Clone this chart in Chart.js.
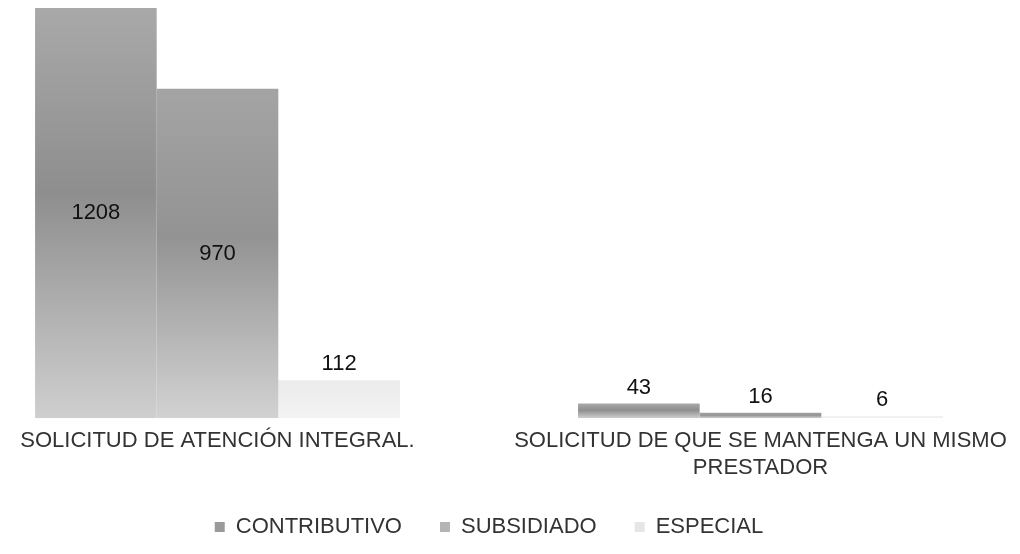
<!DOCTYPE html>
<html>
<head>
<meta charset="utf-8">
<script src="https://cdn.jsdelivr.net/npm/chart.js@4.4.0/dist/chart.umd.min.js"></script>
<style>
  html, body { margin:0; padding:0; background:#fff; overflow:hidden; }
  /* plot is a bit wider than the window, like the source image */
  #wrap { position:relative; left:-54px; width:1086px; height:554px; }
</style>
</head>
<body>
<div id="wrap"><canvas id="chBars"></canvas></div>
<script>
var categories = ['SOLICITUD DE ATENCIÓN INTEGRAL.', ['SOLICITUD DE QUE SE MANTENGA UN MISMO', 'PRESTADOR']];
var seriesNames = ['CONTRIBUTIVO', 'SUBSIDIADO', 'ESPECIAL'];
var contributivo = [1208, 43];
var subsidiado = [970, 16];
var especial = [112, 6];

var fills = [
  ['#a9a9a9', '#8e8e8e', '#cfcfcf'],
  ['#a4a4a4', '#939393', '#d2d2d2'],
  ['#ececec', '#eeeeee', '#f3f3f3']
];
var legendColors = ['#9a9a9a', '#b4b4b4', '#e6e6e6'];

// gradient runs from the top of each bar down to the baseline
function barFill(stops) {
  return function(context) {
    var y = context.chart.scales.y;
    if (!y || context.raw == null) return stops[2];
    var top = y.getPixelForValue(context.raw);
    var base = y.getPixelForValue(0);
    if (!isFinite(top) || !isFinite(base) || base - top < 1) return stops[2];
    var g = context.chart.ctx.createLinearGradient(0, top, 0, base);
    g.addColorStop(0, stops[0]);
    g.addColorStop(0.45, stops[1]);
    g.addColorStop(1, stops[2]);
    return g;
  };
}

var barLabels = {
  id: 'barLabels',
  afterDatasetsDraw: function(chart) {
    var ctx = chart.ctx;
    ctx.save();
    ctx.font = '22px "Liberation Sans", Arial, sans-serif';
    ctx.fillStyle = '#111';
    ctx.textAlign = 'center';
    ctx.textBaseline = 'middle';
    chart.data.datasets.forEach(function(ds, i) {
      chart.getDatasetMeta(i).data.forEach(function(bar, j) {
        var h = bar.base - bar.y;
        var y = h > 60 ? (bar.y + bar.base) / 2 : bar.y - 16;
        ctx.fillText(ds.data[j], bar.x, y);
      });
    });
    ctx.restore();
  }
};

// pull the legend row up a little without changing item spacing
var legendShift = {
  id: 'legendShift',
  afterLayout: function(chart) {
    if (chart.legend) {
      chart.legend.top -= 13;
      chart.legend.bottom -= 13;
    }
  }
};

Chart.defaults.font.family = '"Liberation Sans", Arial, sans-serif';
Chart.defaults.font.size = 22;
Chart.defaults.color = '#333';

new Chart(document.getElementById('chBars'), {
  type: 'bar',
  data: {
    labels: categories,
    datasets: [
      {label: seriesNames[0], data: contributivo, backgroundColor: barFill(fills[0])},
      {label: seriesNames[1], data: subsidiado, backgroundColor: barFill(fills[1])},
      {label: seriesNames[2], data: especial, backgroundColor: barFill(fills[2])}
    ]
  },
  options: {
    responsive: true,
    maintainAspectRatio: false,
    animation: false,
    layout: {padding: {top: 8}},
    datasets: {bar: {categoryPercentage: 0.672, barPercentage: 1, borderWidth: 0}},
    scales: {
      x: {
        grid: {display: false, drawTicks: false},
        border: {display: false},
        ticks: {padding: 10, maxRotation: 0, autoSkip: false, color: '#333'}
      },
      y: {display: false, min: 0, max: 1208}
    },
    plugins: {
      legend: {
        position: 'bottom',
        maxHeight: 63,
        labels: {
          boxWidth: 10,
          boxHeight: 10,
          padding: 38,
          color: '#333',
          generateLabels: function(chart) {
            var items = Chart.defaults.plugins.legend.labels.generateLabels(chart);
            items.forEach(function(it, i) {
              it.fillStyle = legendColors[i];
              it.strokeStyle = legendColors[i];
              it.lineWidth = 0;
            });
            return items;
          }
        }
      },
      tooltip: {enabled: false}
    }
  },
  plugins: [barLabels, legendShift]
});
</script>
</body>
</html>
